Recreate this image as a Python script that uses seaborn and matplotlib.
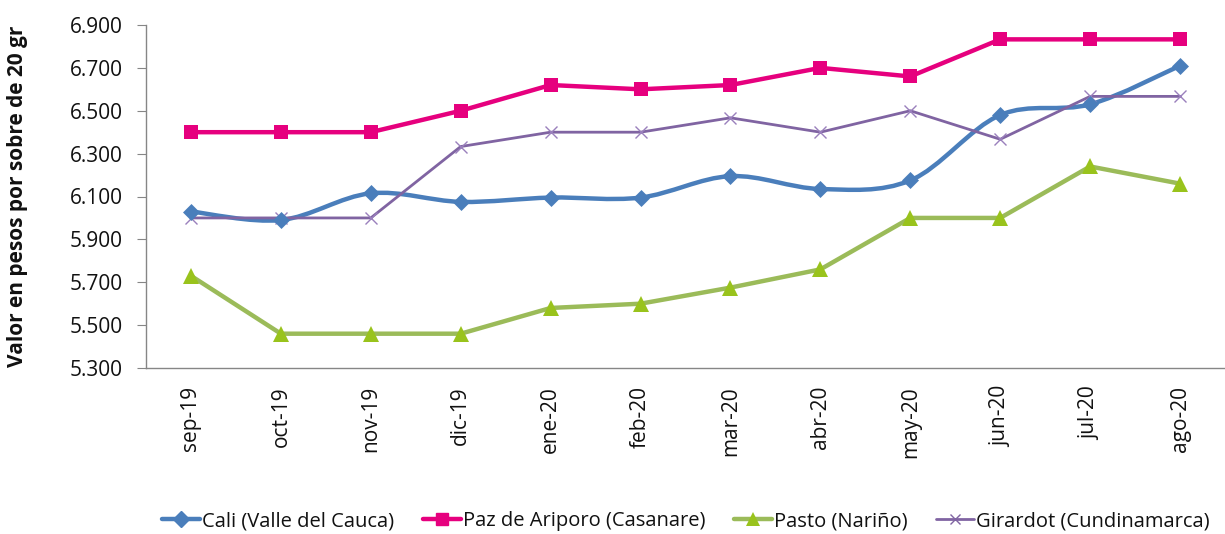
import numpy as np
import pandas as pd
import matplotlib
matplotlib.use("Agg")
import matplotlib.pyplot as plt
import seaborn as sns
from matplotlib.path import Path
from matplotlib.patches import PathPatch
from matplotlib.lines import Line2D
from matplotlib.ticker import FuncFormatter, FixedLocator

months = ["sep-19", "oct-19", "nov-19", "dic-19", "ene-20", "feb-20",
          "mar-20", "abr-20", "may-20", "jun-20", "jul-20", "ago-20"]
cali = [6030, 5990, 6115, 6075, 6095, 6095, 6195, 6135, 6175, 6480, 6530, 6710]
paz = [6400, 6400, 6400, 6500, 6620, 6600, 6620, 6700, 6660, 6833, 6833, 6833]
pasto = [5730, 5460, 5460, 5460, 5580, 5600, 5675, 5760, 6000, 6000, 6240, 6160]
girardot = [6000, 6000, 6000, 6333, 6400, 6400, 6467, 6400, 6500, 6367, 6567, 6567]
series_names = ["Cali (Valle del Cauca)", "Paz de Ariporo (Casanare)",
                "Pasto (Nariño)", "Girardot (Cundinamarca)"]
yticks = [5300, 5500, 5700, 5900, 6100, 6300, 6500, 6700, 6900]

sns.set_theme(style="white")
plt.rcParams["font.family"] = ["Open Sans", "DejaVu Sans"]

FS = 15

fig = plt.figure(figsize=(12.25, 5.34), dpi=100)
ax_left, ax_w = 146, 1225 - 146
ax = fig.add_axes([ax_left / 1225, 1 - 368 / 534, ax_w / 1225, (368 - 25) / 534])

x = np.arange(len(months))
df = pd.DataFrame({"x": x, "cali": cali, "paz": paz, "pasto": pasto, "girardot": girardot})

c_cali = "#4A7EBB"
c_paz = "#E6007E"
c_pasto_line = "#9BBB59"
c_pasto_mk = "#99C31C"
c_gir = "#8064A2"

# Cali: smoothed curve (Excel-style) + diamond markers
pts = np.column_stack([x, np.array(cali, dtype=float)])
verts = [tuple(pts[0])]
codes = [Path.MOVETO]
n = len(pts)
for i in range(n - 1):
    p0 = pts[i - 1] if i > 0 else pts[i]
    p1 = pts[i]
    p2 = pts[i + 1]
    p3 = pts[i + 2] if i + 2 < n else pts[i + 1]
    c1 = p1 + (p2 - p0) / 6.0
    c2 = p2 - (p3 - p1) / 6.0
    verts += [tuple(c1), tuple(c2), tuple(p2)]
    codes += [Path.CURVE4, Path.CURVE4, Path.CURVE4]
ax.add_patch(PathPatch(Path(verts, codes), facecolor="none", edgecolor=c_cali,
                       lw=3.2, capstyle="round", joinstyle="round", zorder=3))
sns.scatterplot(data=df, x="x", y="cali", marker="D", s=75, color=c_cali,
                edgecolor=c_cali, linewidth=0, ax=ax, zorder=4)

# Paz de Ariporo
sns.lineplot(data=df, x="x", y="paz", color=c_paz, lw=3.2, marker="s",
             markersize=10, markeredgewidth=0, ax=ax, zorder=3)
# Pasto
sns.lineplot(data=df, x="x", y="pasto", color=c_pasto_line, lw=3.2, marker="^",
             markersize=11, markerfacecolor=c_pasto_mk, markeredgewidth=0,
             ax=ax, zorder=3)
# Girardot
sns.lineplot(data=df, x="x", y="girardot", color=c_gir, lw=2.0, marker="x",
             markersize=8, markeredgewidth=1.0, markeredgecolor="#9A80BC",
             ax=ax, zorder=3)

ax.set_xlim(-0.5, len(months) - 0.5)
ax.set_ylim(yticks[0], yticks[-1])
ax.yaxis.set_major_locator(FixedLocator(yticks))
ax.yaxis.set_major_formatter(FuncFormatter(lambda v, p: f"{v/1000:.3f}"))
ax.set_xticks(x)
ax.set_xticklabels(months, rotation=90, fontsize=FS, color="#111111")
ax.tick_params(axis="x", length=0, pad=13)
ax.tick_params(axis="y", length=6.5, width=0.8, color="#868686", direction="out",
               labelsize=FS, labelcolor="#111111", pad=10.5, left=True)
for lab in ax.get_yticklabels():
    lab.set_fontsize(FS)

for s in ["top", "right"]:
    ax.spines[s].set_visible(False)
for s in ["left", "bottom"]:
    ax.spines[s].set_color("#868686")
    ax.spines[s].set_linewidth(1.0)

ax.set_xlabel("")
ax.set_ylabel("Valor en pesos por sobre de 20 gr", fontsize=FS, fontweight="bold",
              color="#111111")
ax.yaxis.set_label_coords((18 - ax_left) / ax_w, 0.5)
ax.yaxis.label.set_va("center")

handles = [
    Line2D([0], [0], color=c_cali, lw=3.2, marker="D", markersize=8),
    Line2D([0], [0], color=c_paz, lw=3.2, marker="s", markersize=9),
    Line2D([0], [0], color=c_pasto_line, lw=3.2, marker="^", markersize=10,
           markerfacecolor=c_pasto_mk, markeredgewidth=0),
    Line2D([0], [0], color=c_gir, lw=2.0, marker="x", markersize=7, markeredgewidth=1.0),
]
fig.legend(handles, series_names, loc="center", bbox_to_anchor=(686 / 1225, 1 - 521 / 534),
           ncol=4, frameon=False, fontsize=14.5, handlelength=1.9, handletextpad=0.1,
           columnspacing=1.4, labelcolor="#111111", borderpad=0.1)

fig.savefig("out.png", dpi=100)
